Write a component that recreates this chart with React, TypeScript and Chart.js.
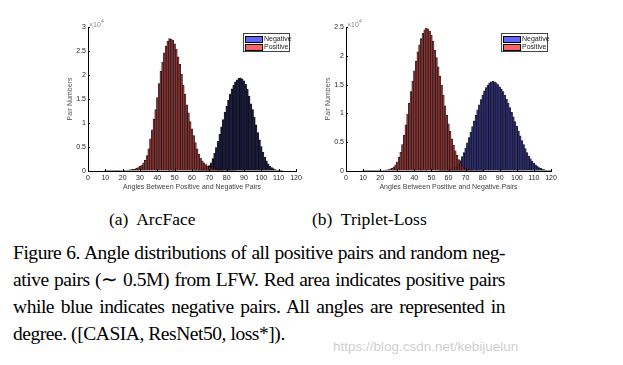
import React, { useEffect, useRef } from "react";
import { Chart, registerables } from "chart.js";

Chart.register(...registerables);

// ---------- data (counts per 1-degree bin) ----------
const arcPosStart = 10;
const arcPosCounts = [
  20, 25, 30, 35, 40, 50, 55, 65, 75, 90, 105, 125, 150, 180, 220, 270, 330, 420, 540, 720,
  950, 1250, 1700, 2200, 3200, 4600, 6700, 8600, 10800, 12800, 15300, 18200, 20800, 22700, 24600, 26000,
  27000, 27600, 27500, 27300, 26500, 25400, 23800, 22200, 20200, 17900, 16000, 13800, 12100, 10300, 8800,
  7400, 5900, 4600, 3500, 2700, 2100, 1700, 1350, 1100, 900, 720, 580, 460, 360, 280, 220, 170, 130, 100,
  75, 55, 40, 30, 20, 15,
];
const arcNegStart = 62;
const arcNegCounts = [
  60, 100, 160, 250, 380, 560, 700, 900, 1150, 1700, 2600, 3700, 4900, 6200, 7700, 9200, 10700, 12200,
  13500, 14800, 16000, 17100, 17900, 18600, 19000, 19300, 19400, 19200, 18800, 18100, 17000, 15600, 14000,
  12800, 11200, 9600, 8000, 6500, 5100, 3900, 2900, 2100, 1500, 1050, 720, 480, 310, 200, 120, 70, 40,
];
const triPosStart = 10;
const triPosCounts = [
  20, 22, 25, 28, 32, 36, 40, 45, 50, 55, 60, 80, 105, 140, 190, 260, 360, 500, 720, 1050,
  1600, 2400, 3300, 4600, 6200, 8000, 9900, 11800, 13800, 15600, 17400, 19100, 20700, 21900, 23000, 23900,
  24500, 24800, 24700, 24300, 23600, 22500, 21000, 19700, 18100, 16500, 14900, 13200, 11300, 9700, 8200,
  6900, 5600, 4500, 3500, 2700, 2000, 1400, 1000, 700, 500, 350, 250, 180, 130, 90, 65, 45, 30, 20, 15,
];
const triNegStart = 55;
const triNegCounts = [
  30, 45, 65, 95, 140, 200, 280, 390, 530, 720, 960, 1300, 1800, 2500, 3200, 4000, 4900, 5800, 6700, 7700,
  8700, 9700, 10600, 11500, 12400, 13200, 13900, 14500, 14900, 15300, 15500, 15600, 15500, 15300, 15000,
  14600, 14200, 13800, 13200, 12500, 11800, 11000, 10200, 9400, 8600, 7800, 6900, 6100, 5300, 4600, 3900,
  3200, 2600, 2100, 1700, 1350, 1050, 800, 600, 450, 330, 230, 150, 100, 60, 30,
];
const xTickStep = 10;
const xMax = 120;
const arcYMax = 30000;
const triYMax = 25000;
const yTickStep = 5000;
const yScaleExp = 10000;
const seriesLabels = ["Negative", "Positive"];
const subCaptions = ["(a)  ArcFace", "(b)  Triplet-Loss"];
const captionLines = [
  "Figure 6. Angle distributions of all positive pairs and random neg-",
  "ative pairs (\u223c 0.5M) from LFW. Red area indicates positive pairs",
  "while blue indicates negative pairs.  All angles are represented in",
  "degree. ([CASIA, ResNet50, loss*]).",
];
const watermark = "https://blog.csdn.net/kebijuelun";

const toPoints = (start: number, counts: number[]) => counts.map((v, i) => ({ x: start + i, y: v }));

const inwardTicks = {
  id: "inwardTicks",
  afterDraw(chart: any) {
    const { ctx, chartArea, scales } = chart;
    ctx.save();
    ctx.strokeStyle = "#000";
    ctx.lineWidth = 1;
    ctx.beginPath();
    scales.x.ticks.forEach((t: any) => {
      const px = Math.round(scales.x.getPixelForValue(t.value)) + 0.5;
      ctx.moveTo(px, chartArea.bottom);
      ctx.lineTo(px, chartArea.bottom - 2);
    });
    scales.y.ticks.forEach((t: any) => {
      const py = Math.round(scales.y.getPixelForValue(t.value)) + 0.5;
      ctx.moveTo(chartArea.left, py);
      ctx.lineTo(chartArea.left + 2, py);
    });
    ctx.stroke();
    ctx.restore();
  },
};

type HistProps = {
  left: number;
  width: number;
  yMax: number;
  pos: { x: number; y: number }[];
  neg: { x: number; y: number }[];
  negColor: string;
  legendLeft: number;
};

function Histogram({ left, width, yMax, pos, neg, negColor, legendLeft }: HistProps) {
  const ref = useRef<HTMLCanvasElement>(null);
  useEffect(() => {
    if (!ref.current) return;
    const font = { family: "'Liberation Sans', Arial, sans-serif", size: 7 };
    const chart = new Chart(ref.current, {
      type: "bar",
      data: {
        datasets: [
          {
            label: seriesLabels[1],
            data: pos,
            backgroundColor: "rgba(150,50,50,0.93)",
            borderColor: "rgba(0,0,0,0.9)",
            borderWidth: 0.6,
            barPercentage: 1,
            categoryPercentage: 1,
            grouped: false,
          } as any,
          {
            label: seriesLabels[0],
            data: neg,
            backgroundColor: negColor,
            borderColor: "rgba(0,0,0,0.9)",
            borderWidth: 0.6,
            barPercentage: 1,
            categoryPercentage: 1,
            grouped: false,
          } as any,
        ],
      },
      options: {
        animation: false,
        responsive: false,
        maintainAspectRatio: false,
        layout: { padding: { top: 15, right: 16, left: 0, bottom: 0 } },
        plugins: { legend: { display: false }, tooltip: { enabled: false } },
        scales: {
          x: {
            type: "linear",
            min: 0,
            max: xMax,
            offset: false,
            grid: { display: true, drawOnChartArea: false, drawTicks: false, offset: false } as any,
            border: { display: true, color: "#000", width: 1 },
            ticks: { stepSize: xTickStep, color: "#262626", font, padding: 3, maxRotation: 0, autoSkip: false },
            title: {
              display: true,
              text: "Angles Between Positive and Negative Pairs",
              color: "#444",
              font,
              padding: { top: 0, bottom: 2 },
            },
            afterFit: (s: any) => {
              s.height = 22;
            },
          },
          y: {
            min: 0,
            max: yMax,
            grid: { display: true, drawOnChartArea: false, drawTicks: false },
            border: { display: true, color: "#000", width: 1 },
            ticks: {
              stepSize: yTickStep,
              color: "#262626",
              font,
              padding: 2,
              callback: (v: any) => String(Number(v) / yScaleExp),
            },
            title: {
              display: true,
              text: "Pair Numbers",
              color: "#555",
              font,
              padding: { top: 6, bottom: 0 },
            },
            afterFit: (s: any) => {
              s.width = 28;
            },
          },
        },
      },
      plugins: [inwardTicks],
    });
    return () => chart.destroy();
  }, []);
  const sw = (c: string) => ({
    display: "inline-block",
    width: 16,
    height: 5,
    background: c,
    border: "1px solid #000",
    marginRight: 1,
    verticalAlign: "middle",
  });
  return (
    <>
      <canvas ref={ref} width={width} height={181} style={{ position: "absolute", left, top: 12, width, height: 181 }} />
      <div
        style={{
          position: "absolute",
          left: left + 29,
          top: 17,
          fontFamily: "'Liberation Sans', Arial, sans-serif",
          fontSize: 7,
          color: "#888",
          lineHeight: "8px",
        }}
      >
        {"\u00d710"}
        <sup style={{ fontSize: 5, verticalAlign: "4px" }}>4</sup>
      </div>
      <div
        style={{
          position: "absolute",
          left: legendLeft,
          top: 33,
          width: 44,
          height: 16,
          border: "1px solid #444",
          background: "#fff",
          fontFamily: "'Liberation Sans', Arial, sans-serif",
          fontSize: 7,
          color: "#262626",
          lineHeight: "8px",
          padding: "1px 0 0 1px",
          boxSizing: "content-box",
          whiteSpace: "nowrap",
        }}
      >
        <div>
          <span style={sw("#6464ff")} />
          {seriesLabels[0]}
        </div>
        <div>
          <span style={sw("#ff6464")} />
          {seriesLabels[1]}
        </div>
      </div>
    </>
  );
}

export default function App() {
  const serif = "'Liberation Serif', 'Times New Roman', serif";
  return (
    <div style={{ position: "fixed", left: 0, top: 0, width: 623, height: 365, background: "#fff", overflow: "hidden" }}>
      <Histogram
        left={60}
        width={252}
        yMax={arcYMax}
        pos={toPoints(arcPosStart, arcPosCounts)}
        neg={toPoints(arcNegStart, arcNegCounts)}
        negColor="rgba(22,22,62,1)"
        legendLeft={243}
      />
      <Histogram
        left={318}
        width={249}
        yMax={triYMax}
        pos={toPoints(triPosStart, triPosCounts)}
        neg={toPoints(triNegStart, triNegCounts)}
        negColor="rgba(42,42,120,1)"
        legendLeft={501}
      />
      <div style={{ position: "absolute", left: 109, top: 208, fontFamily: serif, fontSize: 17.5, lineHeight: "22px", whiteSpace: "pre" }}>
        {subCaptions[0]}
      </div>
      <div style={{ position: "absolute", left: 312, top: 208, fontFamily: serif, fontSize: 17.5, lineHeight: "22px", whiteSpace: "pre" }}>
        {subCaptions[1]}
      </div>
      {captionLines.map((t, i) => (
        <div
          key={i}
          style={{
            position: "absolute",
            left: 13,
            top: 240 + i * 27,
            width: 492,
            fontFamily: serif,
            fontSize: 19.5,
            letterSpacing: "-0.45px",
            lineHeight: "26px",
            textAlign: "justify",
            textAlignLast: i < captionLines.length - 1 ? "justify" : "left",
            whiteSpace: i < captionLines.length - 1 ? "normal" : "pre",
          } as any}
        >
          {t}
        </div>
      ))}
      <div
        style={{
          position: "absolute",
          left: 333,
          top: 339,
          fontFamily: "'Liberation Sans', Arial, sans-serif",
          fontSize: 13.5,
          lineHeight: "16px",
          color: "#cfcfcf",
        }}
      >
        {watermark}
      </div>
    </div>
  );
}
